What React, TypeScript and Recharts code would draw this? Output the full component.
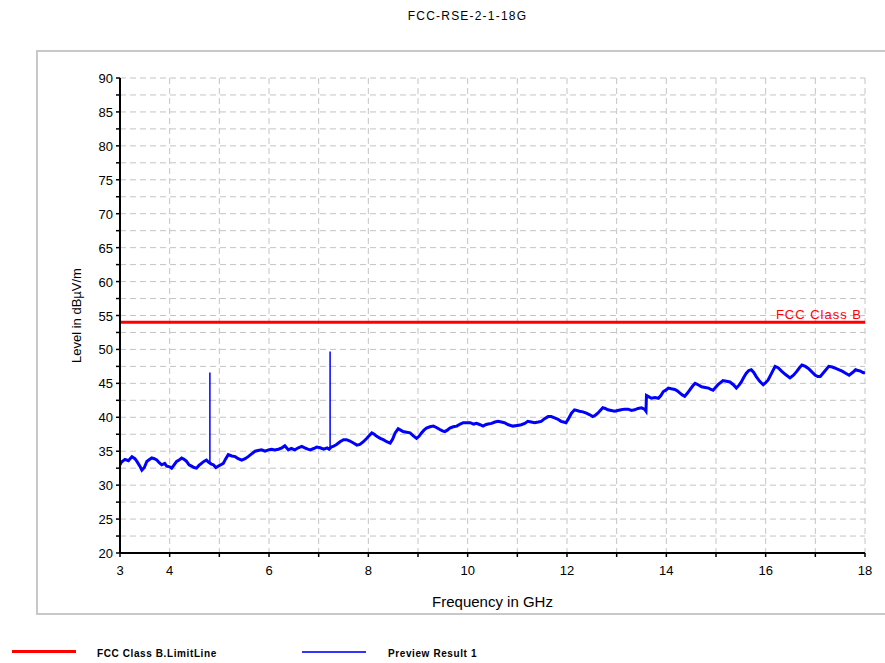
import React from 'react';
import {
  ComposedChart, Line, XAxis, YAxis, CartesianGrid, ReferenceLine
} from 'recharts';

const freqs = [
  3.00, 3.03, 3.10, 3.17, 3.24, 3.30, 3.34, 3.40, 3.44, 3.49, 3.54, 3.60, 3.64, 3.69, 3.74, 3.79, 3.84, 3.90, 3.94,
  4.00, 4.04, 4.09, 4.14, 4.19, 4.24, 4.29, 4.34, 4.39, 4.44, 4.49, 4.54, 4.59, 4.64, 4.69, 4.74, 4.78, 4.84, 4.88, 4.93, 4.98,
  5.03, 5.08, 5.13, 5.18, 5.25, 5.32, 5.38, 5.45, 5.52, 5.58, 5.65, 5.72, 5.78, 5.85, 5.92, 5.99,
  6.05, 6.12, 6.19, 6.26, 6.32, 6.39, 6.45, 6.52, 6.59, 6.66, 6.72, 6.78, 6.83, 6.90, 6.96,
  7.03, 7.10, 7.17, 7.21, 7.25, 7.29, 7.36, 7.43, 7.50, 7.56, 7.63, 7.70, 7.77, 7.83, 7.90, 7.97,
  8.02, 8.07, 8.12, 8.17, 8.24, 8.30, 8.37, 8.44, 8.49, 8.54, 8.60, 8.65, 8.70, 8.77, 8.84, 8.90, 8.97,
  9.02, 9.07, 9.12, 9.17, 9.24, 9.31, 9.37, 9.44, 9.49, 9.54, 9.59, 9.64, 9.71, 9.78, 9.85, 9.91, 9.98,
  10.05, 10.12, 10.18, 10.25, 10.31, 10.36, 10.41, 10.48, 10.55, 10.61, 10.68, 10.74, 10.82, 10.91,
  11.00, 11.08, 11.15, 11.21, 11.28, 11.35, 11.42, 11.48, 11.55, 11.62, 11.68, 11.75, 11.82, 11.88, 11.93, 11.98,
  12.03, 12.09, 12.15, 12.20, 12.25, 12.32, 12.39, 12.45, 12.52, 12.57, 12.62, 12.67, 12.72, 12.77, 12.82, 12.89, 12.96,
  13.02, 13.09, 13.16, 13.23, 13.30, 13.36, 13.43, 13.50, 13.56, 13.59, 13.60, 13.65, 13.70, 13.77, 13.84, 13.89, 13.94, 13.99,
  14.04, 14.10, 14.17, 14.22, 14.27, 14.32, 14.37, 14.43, 14.48, 14.53, 14.58, 14.64, 14.71, 14.78, 14.85, 14.90, 14.94, 14.99,
  15.04, 15.09, 15.14, 15.21, 15.28, 15.35, 15.41, 15.46, 15.51, 15.56, 15.61, 15.66, 15.71, 15.76, 15.81, 15.88, 15.95,
  16.00, 16.05, 16.12, 16.19, 16.25, 16.32, 16.40, 16.49, 16.56, 16.63, 16.68, 16.73, 16.80, 16.86, 16.93,
  17.00, 17.05, 17.10, 17.18, 17.27, 17.34, 17.41, 17.48, 17.54, 17.61, 17.68, 17.75, 17.81, 17.86, 17.91, 17.96, 18.00,
];

const levels = [
  33.0, 33.4, 33.8, 33.6, 34.2, 33.9, 33.5, 32.8, 32.2, 32.6, 33.5, 33.8, 34.0, 33.9, 33.7, 33.3, 33.0, 33.2, 32.8,
  32.7, 32.5, 33.0, 33.5, 33.7, 34.0, 33.8, 33.5, 33.0, 32.8, 32.6, 32.5, 32.9, 33.2, 33.5, 33.7, 33.4, 33.1, 33.0, 32.6, 32.8,
  33.0, 33.2, 33.9, 34.5, 34.3, 34.2, 33.9, 33.7, 33.9, 34.2, 34.6, 35.0, 35.1, 35.2, 35.0, 35.2,
  35.3, 35.2, 35.3, 35.5, 35.8, 35.2, 35.4, 35.2, 35.5, 35.7, 35.5, 35.3, 35.2, 35.4, 35.6,
  35.5, 35.3, 35.5, 35.3, 35.6, 35.7, 36.0, 36.4, 36.7, 36.7, 36.5, 36.2, 35.9, 36.0, 36.4, 36.9,
  37.3, 37.7, 37.5, 37.2, 36.9, 36.7, 36.4, 36.2, 36.8, 37.7, 38.3, 38.1, 37.9, 37.8, 37.7, 37.3, 36.9,
  37.2, 37.7, 38.1, 38.4, 38.6, 38.7, 38.5, 38.2, 38.0, 37.9, 38.1, 38.4, 38.6, 38.7, 39.0, 39.2, 39.2,
  39.2, 39.0, 39.1, 38.9, 38.7, 38.9, 39.0, 39.1, 39.3, 39.4, 39.3, 39.2, 38.9, 38.7,
  38.8, 38.9, 39.1, 39.4, 39.3, 39.2, 39.3, 39.4, 39.8, 40.1, 40.1, 39.9, 39.7, 39.4, 39.3, 39.2,
  39.8, 40.6, 41.1, 41.0, 40.9, 40.8, 40.6, 40.4, 40.1, 40.3, 40.6, 41.0, 41.4, 41.3, 41.1, 41.0, 40.9,
  41.0, 41.1, 41.2, 41.2, 41.0, 41.1, 41.3, 41.4, 41.2, 40.9, 43.2, 43.0, 42.8, 42.9, 42.8, 43.2, 43.8, 44.0,
  44.3, 44.2, 44.1, 43.9, 43.6, 43.3, 43.1, 43.6, 44.1, 44.6, 45.0, 44.8, 44.5, 44.4, 44.3, 44.1, 44.0, 44.4,
  44.8, 45.1, 45.4, 45.3, 45.2, 44.8, 44.3, 44.7, 45.2, 45.9, 46.5, 46.9, 47.0, 46.6, 46.0, 45.3, 44.8,
  45.1, 45.5, 46.5, 47.5, 47.3, 46.8, 46.3, 45.8, 46.2, 46.8, 47.3, 47.7, 47.5, 47.2, 46.7,
  46.2, 46.0, 46.0, 46.7, 47.5, 47.4, 47.2, 47.0, 46.8, 46.5, 46.2, 46.6, 47.0, 46.9, 46.8, 46.6, 46.5,
];

// narrow spurious peaks
const spikeFreqs = [4.81, 7.23];
const spikeBase = [33.4, 35.4];
const spikePeak = [46.6, 49.7];

const LIMIT = 54;
const limitFreqs = [3, 18];

const xTicks = [3, 4, 5, 6, 7, 8, 9, 10, 11, 12, 13, 14, 15, 16, 17, 18];
const xLabels = [3, 4, 6, 8, 10, 12, 14, 16, 18];
const yTicks = [20, 22.5, 25, 27.5, 30, 32.5, 35, 37.5, 40, 42.5, 45, 47.5, 50, 52.5, 55, 57.5, 60, 62.5, 65, 67.5, 70, 72.5, 75, 77.5, 80, 82.5, 85, 87.5, 90];

const trace = freqs.map((f, i) => ({ f, v: levels[i] }));
const spikes = spikeFreqs.map((f, i) => [{ f, v: spikeBase[i] }, { f, v: spikePeak[i] }]);
const limit = limitFreqs.map(f => ({ f, v: LIMIT }));

const FONT = '"Liberation Sans", Arial, sans-serif';

const XTick = ({ x, y, payload }: any) =>
  xLabels.includes(payload.value) ? (
    <text x={x} y={y + 16} textAnchor="middle" fontSize={13} fill="#000" fontFamily={FONT}>
      {payload.value}
    </text>
  ) : null;

const YTick = ({ x, y, payload }: any) =>
  payload.value % 5 === 0 ? (
    <text x={x - 1} y={y + 5} textAnchor="end" fontSize={13} fill="#000" fontFamily={FONT}>
      {payload.value}
    </text>
  ) : null;

export default function App() {
  return (
    <div style={{ position: 'absolute', left: 0, top: 0, width: 885, height: 663, overflow: 'hidden', background: '#fff', fontFamily: FONT }}>
      <div style={{ position: 'absolute', left: 0, top: 9, width: 935, textAlign: 'center', fontSize: 12, letterSpacing: 1.2 }}>
        FCC-RSE-2-1-18G
      </div>
      <div style={{ position: 'absolute', left: 36, top: 50, width: 900, height: 565, border: '2px solid #c8c8c8', boxSizing: 'border-box' }} />
      <div style={{ position: 'absolute', left: 0, top: 0 }}>
        <ComposedChart width={885} height={663} margin={{ top: 78, right: 20, bottom: 80, left: 60 }}>
          <CartesianGrid stroke="#c4c4c4" strokeDasharray="6 4" ticks={xTicks} />
          <XAxis
            dataKey="f"
            type="number"
            domain={[3, 18]}
            ticks={xTicks}
            interval={0}
            allowDataOverflow
            height={30}
            tick={<XTick />}
            tickSize={4}
            axisLine={{ stroke: '#000', strokeWidth: 2 }}
            tickLine={{ stroke: '#000', strokeWidth: 1.5 }}
            label={{ value: 'Frequency in GHz', position: 'bottom', offset: 13, fontSize: 15, fill: '#000', fontFamily: FONT }}
          />
          <YAxis
            type="number"
            domain={[20, 90]}
            ticks={yTicks}
            interval={0}
            allowDataOverflow
            width={60}
            tick={<YTick />}
            tickSize={4}
            axisLine={{ stroke: '#000', strokeWidth: 2 }}
            tickLine={{ stroke: '#000', strokeWidth: 1.5 }}
            label={{ value: 'Level in dBµV/m', angle: -90, position: 'insideLeft', offset: 16, fontSize: 13, fill: '#000', fontFamily: FONT, style: { textAnchor: 'middle' } }}
          />
          <Line data={limit} dataKey="v" stroke="#ff0000" strokeWidth={3} dot={false} isAnimationActive={false} />
          <ReferenceLine
            y={LIMIT}
            stroke="none"
            label={{ value: 'FCC Class B', position: 'insideBottomRight', offset: 3, fontSize: 13, fill: '#ff0000', fontFamily: FONT, letterSpacing: 1 }}
          />
          <Line data={trace} dataKey="v" stroke="#0000ff" strokeWidth={3} strokeLinejoin="miter" dot={false} isAnimationActive={false} />
          {spikes.map((s, i) => (
            <Line key={i} data={s} dataKey="v" stroke="#0000ff" strokeWidth={1.5} dot={false} isAnimationActive={false} />
          ))}
        </ComposedChart>
      </div>
      <div style={{ position: 'absolute', left: 12, top: 650, width: 64, height: 3, background: '#ff0000' }} />
      <div style={{ position: 'absolute', left: 97, top: 648, fontSize: 10, fontWeight: 'bold', letterSpacing: 0.6 }}>FCC Class B.LimitLine</div>
      <div style={{ position: 'absolute', left: 302, top: 651, width: 64, height: 2, background: '#3333ff' }} />
      <div style={{ position: 'absolute', left: 388, top: 648, fontSize: 10, fontWeight: 'bold', letterSpacing: 0.6 }}>Preview Result 1</div>
    </div>
  );
}
